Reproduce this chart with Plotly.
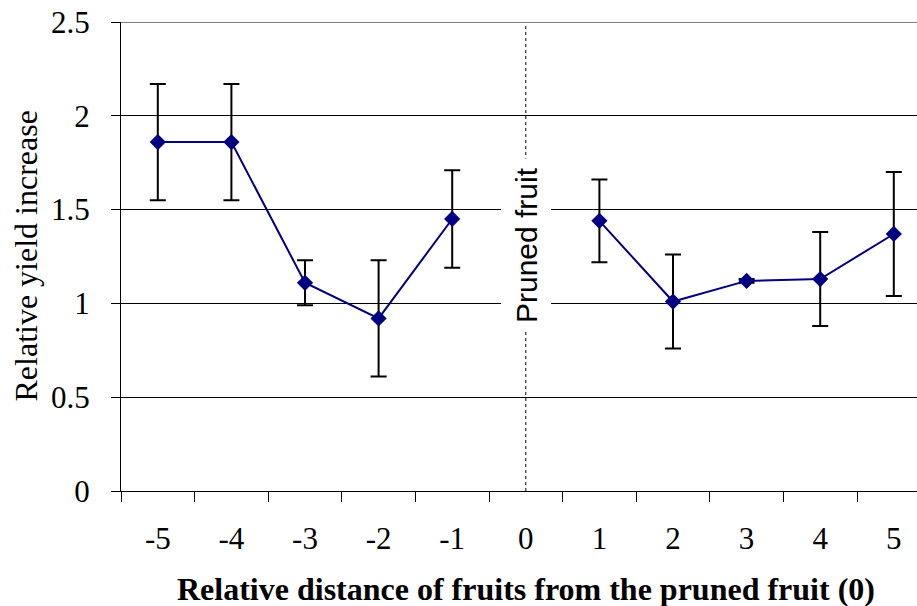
import plotly.graph_objects as go

# Relative position of each fruit from the pruned fruit (0)
positions = ["-5", "-4", "-3", "-2", "-1", "0", "1", "2", "3", "4", "5"]
# Mean relative yield increase (no value at the pruned fruit itself)
yield_increase = [1.86, 1.86, 1.11, 0.92, 1.45, None, 1.44, 1.01, 1.12, 1.13, 1.37]
# Error bar half-lengths
yield_error = [0.31, 0.31, 0.12, 0.31, 0.26, 0, 0.22, 0.25, 0.01, 0.25, 0.33]

y_ticks = [0, 0.5, 1, 1.5, 2, 2.5]
y_tick_text = ["0", "0.5", "1", "1.5", "2", "2.5"]

SERIF = "Liberation Serif"
SANS = "Liberation Sans"
NAVY = "#000080"

# index of the pruned fruit on the category axis
pruned_idx = positions.index("0")

fig = go.Figure()

fig.add_trace(go.Scatter(
    x=positions,
    y=yield_increase,
    mode="lines+markers",
    connectgaps=False,
    line=dict(color=NAVY, width=2),
    marker=dict(symbol="diamond", size=12.5, color=NAVY),
    error_y=dict(type="data", array=yield_error, symmetric=True,
                 color="black", thickness=2, width=8),
    showlegend=False,
))

# dotted marker line at the pruned fruit
fig.add_shape(type="line", xref="x", yref="y", x0=pruned_idx, x1=pruned_idx, y0=0, y1=2.5,
              line=dict(color="black", width=1, dash="dot"), layer="below")
# top border line
fig.add_shape(type="line", xref="paper", yref="y", x0=0, x1=1, y0=2.5, y1=2.5,
              line=dict(color="#808080", width=2))

fig.add_annotation(x=pruned_idx, y=1.31, xref="x", yref="y", text="Pruned fruit",
                   textangle=-90, showarrow=False, bgcolor="white", borderpad=8,
                   font=dict(family=SANS, size=30, color="black"))

# axis titles
fig.add_annotation(x=0.5088, y=-0.209, xref="paper", yref="paper",
                   xanchor="center", yanchor="middle",
                   text="<b>Relative distance of fruits from the pruned fruit (0)</b>",
                   showarrow=False, font=dict(family=SERIF, size=32, color="black"))
fig.add_annotation(x=-0.1206, y=0.5, xref="paper", yref="paper",
                   xanchor="center", yanchor="middle", textangle=-90,
                   text="Relative yield increase",
                   showarrow=False, font=dict(family=SERIF, size=32, color="black"))

fig.update_layout(
    width=917, height=606,
    margin=dict(l=121, r=0, t=22, b=115),
    paper_bgcolor="white", plot_bgcolor="white",
    font=dict(family=SERIF, size=31, color="black"),
    xaxis=dict(
        type="category", categoryorder="array", categoryarray=positions,
        range=[-0.5, -0.5 + 796 / 73.6],
        tickson="boundaries", ticks="outside", ticklen=10, tickwidth=1, tickcolor="black",
        showgrid=False, showline=True, linecolor="black", linewidth=1,
        ticklabelstandoff=20, zeroline=False,
        tickfont=dict(family=SERIF, size=31),
    ),
    yaxis=dict(
        range=[0, 2.5], tickvals=y_ticks, ticktext=y_tick_text,
        ticks="outside", ticklen=9, tickwidth=1, tickcolor="black",
        showgrid=True, gridcolor="black", gridwidth=1,
        showline=True, linecolor="black", linewidth=1, zeroline=False,
        ticklabelstandoff=15,
        tickfont=dict(family=SERIF, size=31),
    ),
)

fig.write_html("out.html")
